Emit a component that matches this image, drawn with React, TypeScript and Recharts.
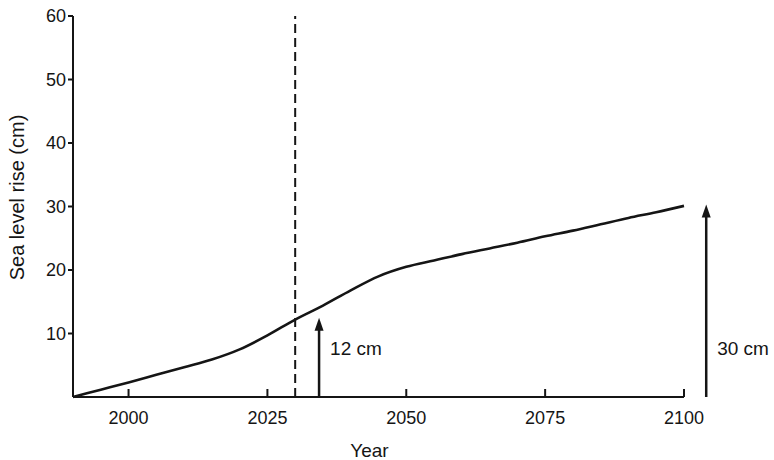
import { Label, Line, LineChart, ReferenceLine, XAxis, YAxis } from 'recharts'

const years = [1990, 1995, 2000, 2005, 2010, 2015, 2020, 2025, 2030, 2035, 2040, 2045, 2050, 2055, 2060, 2065, 2070, 2075, 2080, 2085, 2090, 2095, 2100]
const rise = [0, 1.15, 2.3, 3.5, 4.7, 5.9, 7.5, 9.7, 12.2, 14.4, 16.8, 19.0, 20.5, 21.5, 22.5, 23.4, 24.3, 25.3, 26.2, 27.2, 28.2, 29.1, 30.1]

const xTicks = [2000, 2025, 2050, 2075, 2100]
const yTicks = [10, 20, 30, 40, 50, 60]

const markerYear = 2030
const arrowYears = [2034.3, 2104]
const arrowValues = [12.5, 30.3]
const arrowLabels = ['12 cm', '30 cm']

const rows = years.map((year, i) => ({ year, rise: rise[i] }))

const ink = '#151515'
const font = '"Liberation Sans", Arial, sans-serif'

function Arrow(props: any) {
  const { x1, y1, y2, text } = props
  const top = Math.min(y1, y2)
  const bottom = Math.max(y1, y2)
  return (
    <g>
      <line x1={x1} y1={bottom} x2={x1} y2={top + 10} stroke={ink} strokeWidth={2.5} />
      <polygon points={`${x1},${top} ${x1 - 4.5},${top + 13} ${x1 + 4.5},${top + 13}`} fill={ink} />
      <text x={x1 + 11} y={bottom - 49} dy="0.35em" fontSize={19} fontFamily={font} fill={ink}>
        {text}
      </text>
    </g>
  )
}

export default function App() {
  return (
    <div style={{ position: 'fixed', left: 0, top: 0, background: '#fff' }}>
      <LineChart width={774} height={460} data={rows} margin={{ top: 16, right: 90, bottom: 0, left: 0 }}>
        <XAxis
          dataKey="year"
          type="number"
          domain={[1990, 2100]}
          ticks={xTicks}
          height={63}
          stroke={ink}
          strokeWidth={2}
          tickSize={-8}
          tickMargin={22}
          tick={{ fill: ink, fontSize: 18, fontFamily: font }}
        >
          <Label
            content={({ viewBox }: any) => (
              <text x={viewBox.x + viewBox.width / 2 - 9} y={450} dy="0.35em" textAnchor="middle" fontSize={19} fontFamily={font} fill={ink}>
                Year
              </text>
            )}
          />
        </XAxis>
        <YAxis
          type="number"
          domain={[0, 60]}
          ticks={yTicks}
          width={73}
          stroke={ink}
          strokeWidth={2}
          tickSize={5}
          tickMargin={2}
          tick={{ fill: ink, fontSize: 18, fontFamily: font }}
        >
          <Label
            content={({ viewBox }: any) => {
              const cy = viewBox.y + viewBox.height / 2 - 9
              return (
                <text x={17} y={cy} dy="0.35em" textAnchor="middle" transform={`rotate(-90 17 ${cy})`} fontSize={20} fontFamily={font} fill={ink}>
                  Sea level rise (cm)
                </text>
              )
            }}
          />
        </YAxis>
        <ReferenceLine x={markerYear} stroke={ink} strokeWidth={2} strokeDasharray="9 5" />
        {arrowYears.map((yr, i) => (
          <ReferenceLine
            key={yr}
            segment={[{ x: yr, y: 0 }, { x: yr, y: arrowValues[i] }]}
            ifOverflow="visible"
            shape={(p: any) => <Arrow {...p} text={arrowLabels[i]} />}
          />
        ))}
        <Line
          type="monotone"
          dataKey="rise"
          stroke={ink}
          strokeWidth={2.6}
          dot={false}
          isAnimationActive={false}
        />
      </LineChart>
    </div>
  )
}
